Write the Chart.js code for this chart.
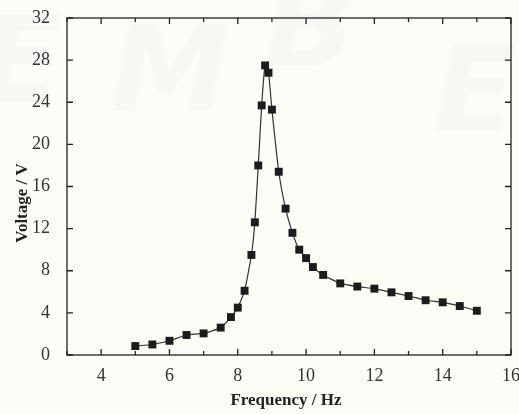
<!DOCTYPE html>
<html>
<head>
<meta charset="utf-8">
<script src="https://cdn.jsdelivr.net/npm/chart.js@4"></script>
<style>
  html, body { margin: 0; padding: 0; background: #fcfcf6; }
  #wrap { width: 519px; height: 414px; position: relative; }
</style>
</head>
<body>
<div id="wrap"><canvas id="chart"></canvas></div>
<script>
// measured points
const frequency = [5, 5.5, 6, 6.5, 7, 7.5, 7.8, 8, 8.2, 8.4, 8.5, 8.6, 8.7, 8.8, 8.9, 9,
                   9.2, 9.4, 9.6, 9.8, 10, 10.2, 10.5, 11, 11.5, 12, 12.5, 13, 13.5, 14, 14.5, 15];
const voltage = [0.85, 1.0, 1.35, 1.9, 2.05, 2.6, 3.6, 4.5, 6.1, 9.5, 12.6, 18.0, 23.7, 27.5, 26.8, 23.3,
                 17.4, 13.9, 11.6, 10.0, 9.2, 8.35, 7.6, 6.8, 6.5, 6.3, 5.95, 5.6, 5.2, 5.0, 4.65, 4.2];
const xLabels = [4, 6, 8, 10, 12, 14, 16];
const yLabels = [0, 4, 8, 12, 16, 20, 24, 28, 32];

const serif = '"Liberation Serif", "DejaVu Serif", serif';

// frame, inward ticks, axis titles
const framePlugin = {
  id: 'frame',
  beforeDraw(chart) {
    const ctx = chart.ctx;
    ctx.save();
    ctx.fillStyle = '#fcfcf6';
    ctx.fillRect(0, 0, chart.width, chart.height);
    // faint watermark
    ctx.fillStyle = 'rgba(215, 218, 232, 0.12)';
    ctx.font = 'italic bold 120px "DejaVu Sans", sans-serif';
    ctx.textBaseline = 'middle';
    ctx.textAlign = 'center';
    [['E', 20, 70], ['M', 170, 80], ['B', 310, 35], ['E', 475, 100]].forEach(([t, x, y]) => {
      ctx.fillText(t, x, y);
    });
    ctx.restore();
  },
  afterDraw(chart) {
    const { ctx, chartArea: a, scales: { x, y } } = chart;
    ctx.save();
    ctx.strokeStyle = '#222';
    ctx.lineWidth = 1.3;
    ctx.strokeRect(a.left, a.top, a.right - a.left, a.bottom - a.top);
    ctx.beginPath();
    for (let v = 3; v <= 16; v++) {
      const px = x.getPixelForValue(v);
      const len = v % 2 === 0 ? 6 : 4;
      ctx.moveTo(px, a.bottom); ctx.lineTo(px, a.bottom - len);
      ctx.moveTo(px, a.top); ctx.lineTo(px, a.top + len);
    }
    yLabels.forEach(v => {
      const py = y.getPixelForValue(v);
      ctx.moveTo(a.left, py); ctx.lineTo(a.left + 6, py);
      ctx.moveTo(a.right, py); ctx.lineTo(a.right - 6, py);
    });
    ctx.stroke();

    ctx.fillStyle = '#222';
    ctx.font = 'bold 17px ' + serif;
    ctx.textAlign = 'center';
    ctx.textBaseline = 'middle';
    ctx.fillText('Frequency / Hz', (a.left + a.right) / 2 - 3, 401);
    ctx.translate(23, 203);
    ctx.rotate(-Math.PI / 2);
    ctx.fillText('Voltage / V', 0, 0);
    ctx.restore();
  }
};

new Chart(document.getElementById('chart'), {
  type: 'line',
  data: {
    datasets: [{
      data: frequency.map((f, i) => ({ x: f, y: voltage[i] })),
      borderColor: '#333',
      borderWidth: 1.2,
      backgroundColor: '#1c1c1c',
      pointStyle: 'rect',
      pointRadius: 5.6,
      pointBorderWidth: 0,
      tension: 0.15
    }]
  },
  options: {
    responsive: true,
    maintainAspectRatio: false,
    animation: false,
    layout: { padding: { left: 0, top: 18, right: 0, bottom: 0 } },
    plugins: { legend: { display: false }, tooltip: { enabled: false } },
    scales: {
      x: {
        type: 'linear', min: 3, max: 16,
        grid: { display: false },
        border: { display: false },
        afterFit(s) { s.height = 59; s.paddingLeft = 0; s.paddingRight = 8; },
        afterBuildTicks(s) { s.ticks = xLabels.map(v => ({ value: v })); },
        ticks: { color: '#333', padding: 2, font: { family: serif, size: 18 } }
      },
      y: {
        min: 0, max: 32,
        grid: { display: false },
        border: { display: false },
        afterFit(s) { s.width = 67; s.paddingTop = 0; s.paddingBottom = 0; },
        afterBuildTicks(s) { s.ticks = yLabels.map(v => ({ value: v })); },
        ticks: { color: '#333', padding: 9, font: { family: serif, size: 18 } }
      }
    }
  },
  plugins: [framePlugin]
});
</script>
</body>
</html>
